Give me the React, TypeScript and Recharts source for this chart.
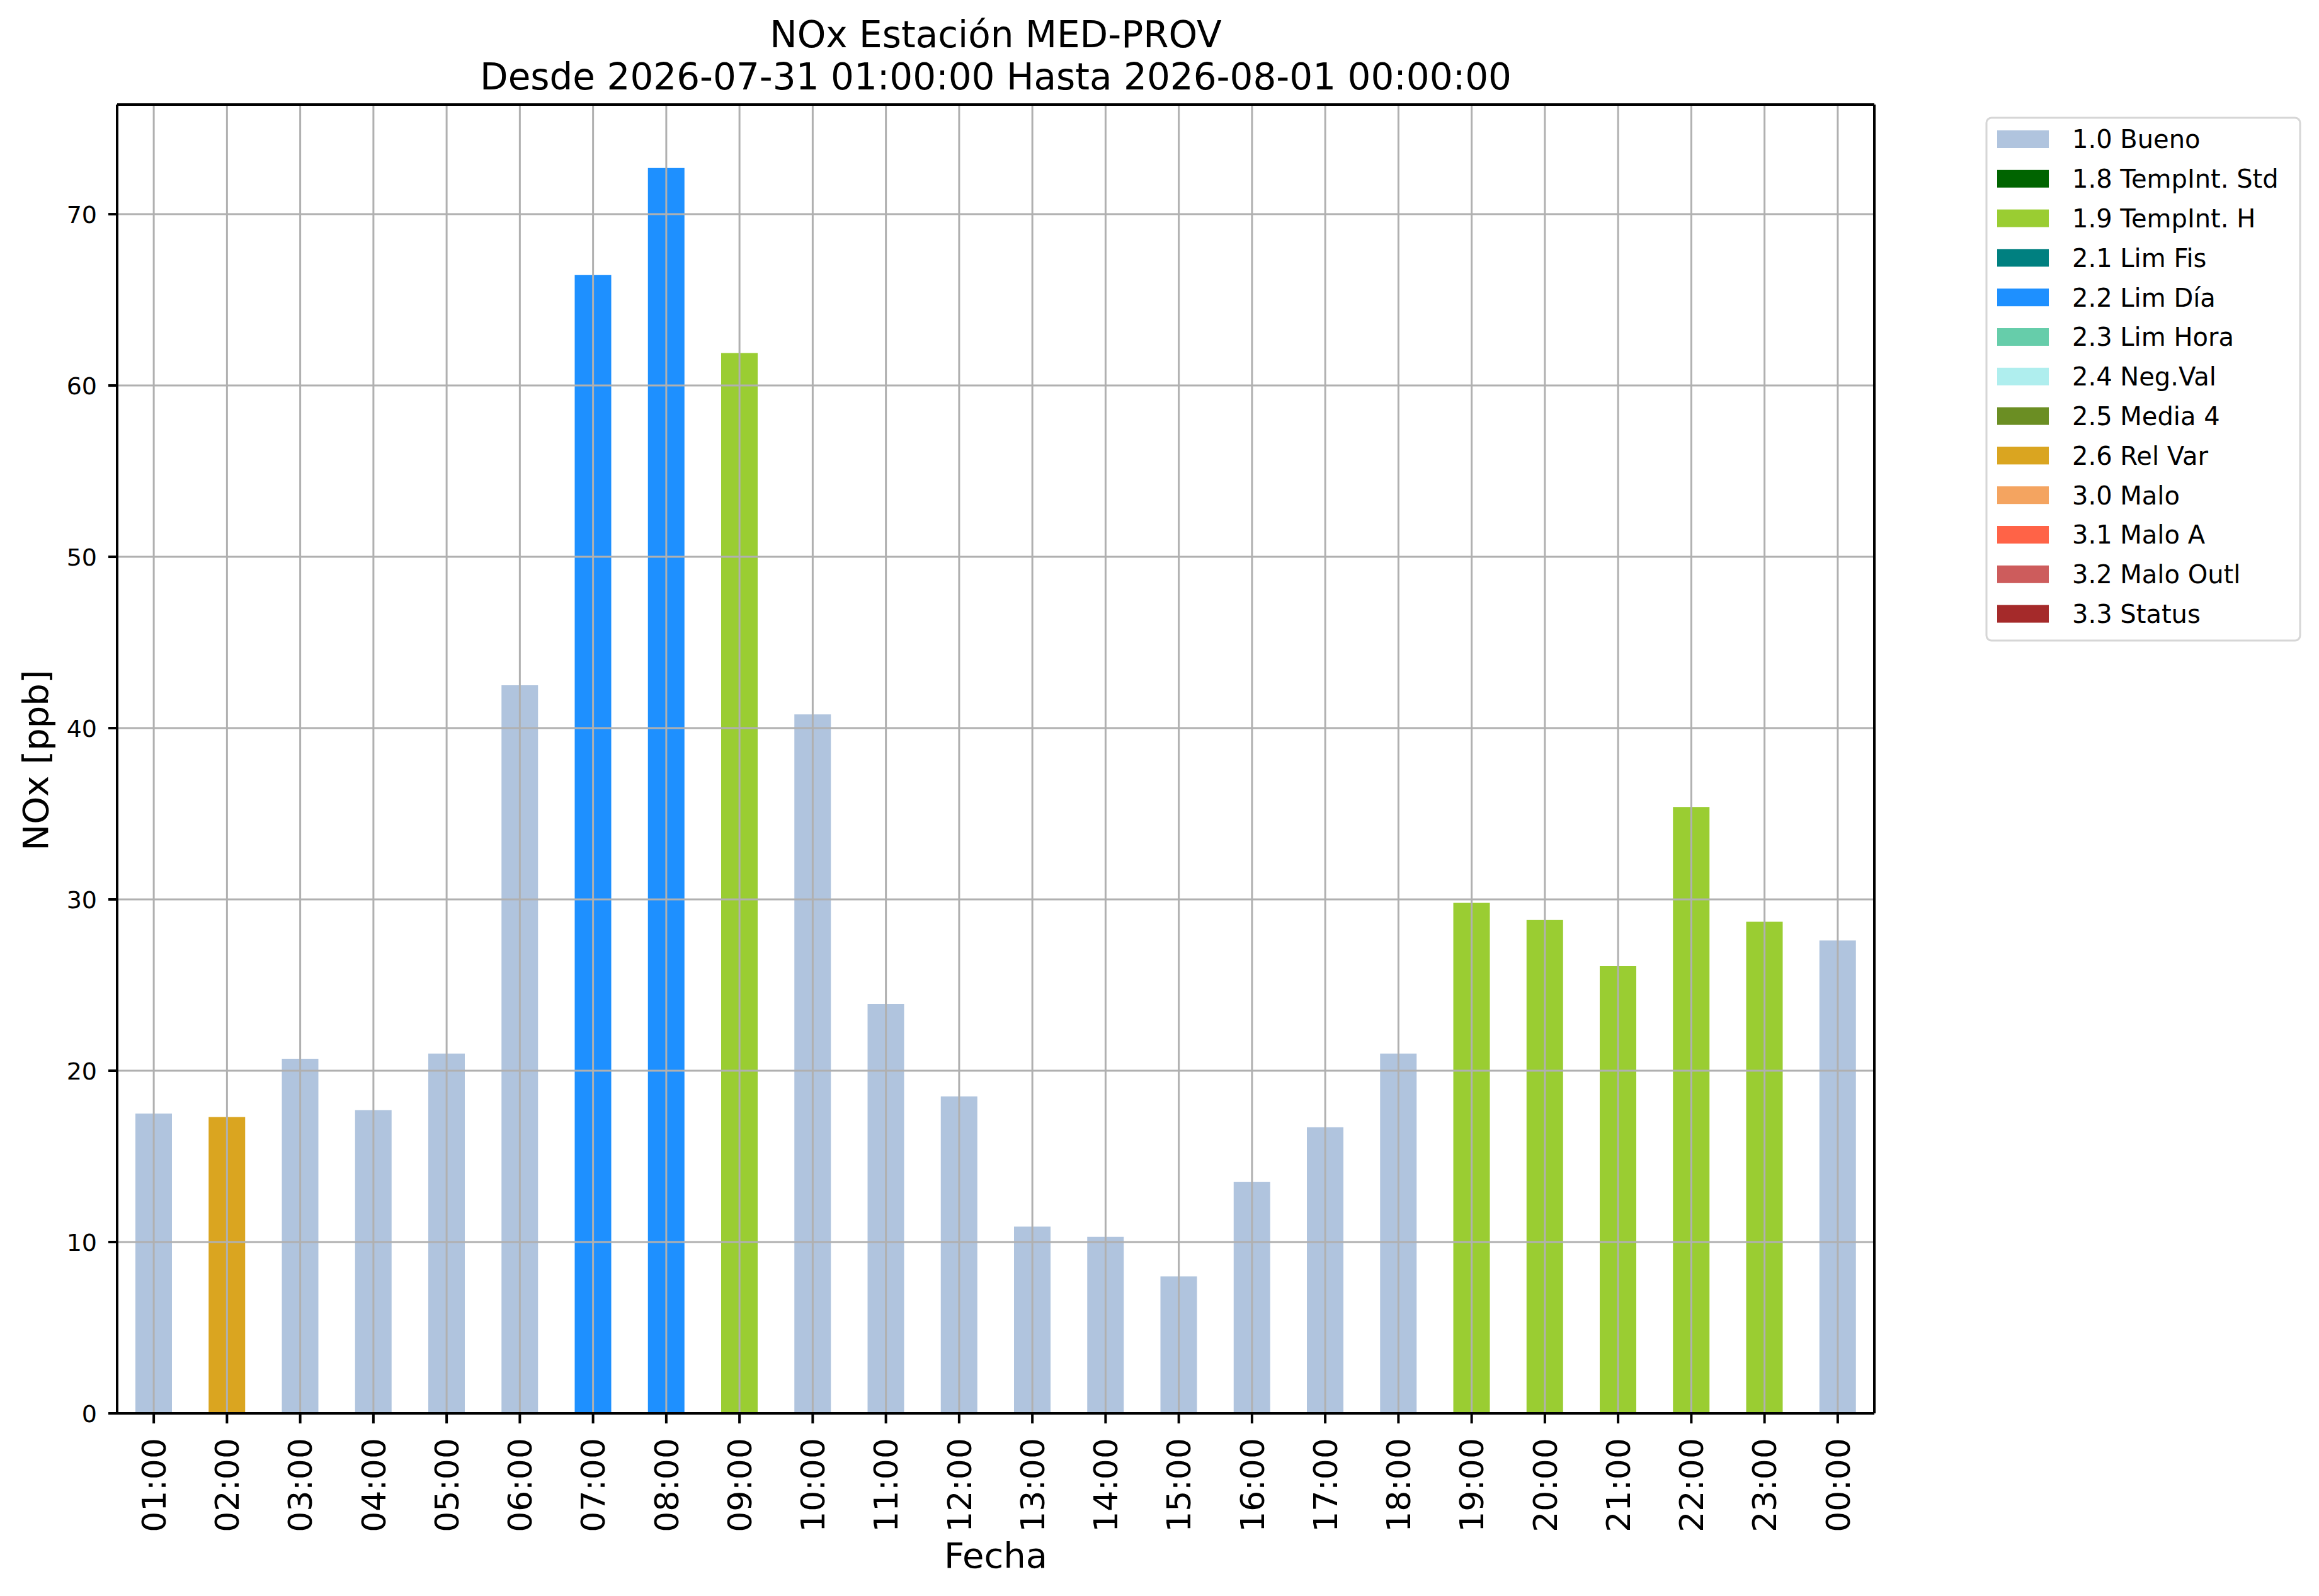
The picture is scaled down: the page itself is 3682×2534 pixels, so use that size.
import { BarChart, Bar, XAxis, YAxis, CartesianGrid, ReferenceLine } from "recharts"

const hours = [
  "01:00", "02:00", "03:00", "04:00", "05:00", "06:00", "07:00", "08:00",
  "09:00", "10:00", "11:00", "12:00", "13:00", "14:00", "15:00", "16:00",
  "17:00", "18:00", "19:00", "20:00", "21:00", "22:00", "23:00", "00:00",
]

const nox = [
  17.5, 17.3, 20.7, 17.7, 21.0, 42.5, 66.45, 72.7, 61.9, 40.8, 23.9, 18.5,
  10.9, 10.3, 8.0, 13.5, 16.7, 21.0, 29.8, 28.8, 26.1, 35.4, 28.7, 27.6,
]

// validation flag of each hour
const hourFlag = [
  "1.0", "2.6", "1.0", "1.0", "1.0", "1.0", "2.2", "2.2", "1.9", "1.0", "1.0", "1.0",
  "1.0", "1.0", "1.0", "1.0", "1.0", "1.0", "1.9", "1.9", "1.9", "1.9", "1.9", "1.0",
]

const flagCodes = ["1.0", "1.8", "1.9", "2.1", "2.2", "2.3", "2.4", "2.5", "2.6", "3.0", "3.1", "3.2", "3.3"]
const flagNames = [
  "1.0 Bueno", "1.8 TempInt. Std", "1.9 TempInt. H", "2.1 Lim Fis", "2.2 Lim Día",
  "2.3 Lim Hora", "2.4 Neg.Val", "2.5 Media 4", "2.6 Rel Var", "3.0 Malo",
  "3.1 Malo A", "3.2 Malo Outl", "3.3 Status",
]
const flagColors = [
  "#b0c4de", "#006400", "#9acd32", "#008080", "#1e90ff", "#66cdaa", "#afeeee",
  "#6b8e23", "#daa520", "#f4a460", "#ff6347", "#cd5c5c", "#a52a2a",
]

const yTicks = [0, 10, 20, 30, 40, 50, 60, 70]
const yMax = 76.4

const FONT = "'DejaVu Sans', sans-serif"
const SPINE = { stroke: "#000", strokeWidth: 4 }
const keyOf = (code: string) => "f" + code.replace(".", "")

const rows = hours.map((h, i) => {
  const r: Record<string, any> = { hour: h }
  flagCodes.forEach((c) => {
    r[keyOf(c)] = hourFlag[i] === c ? nox[i] : 0
  })
  return r
})

function XTick({ x, y, payload }: any) {
  return (
    <text
      x={x}
      y={y}
      transform={`rotate(-90 ${x} ${y})`}
      textAnchor="end"
      dy="0.36em"
      fontSize={52}
      fontFamily={FONT}
      fill="#000"
    >
      {payload.value}
    </text>
  )
}

function YTick({ x, y, payload }: any) {
  return (
    <text x={x} y={y} textAnchor="end" dy="0.36em" fontSize={38} fontFamily={FONT} fill="#000">
      {payload.value}
    </text>
  )
}

export default function App() {
  return (
    <div style={{ position: "absolute", left: 0, top: 0, width: 3682, height: 2534, background: "#fff" }}>
      <BarChart
        width={3682}
        height={2534}
        data={rows}
        margin={{ top: 166, right: 706, left: 0, bottom: 0 }}
        barSize={58}
      >
        {flagCodes.map((c, i) => (
          <Bar
            key={c}
            dataKey={keyOf(c)}
            name={flagNames[i]}
            stackId="q"
            fill={flagColors[i]}
            isAnimationActive={false}
          />
        ))}
        <CartesianGrid stroke="#b0b0b0" strokeWidth={3} zIndex={350} />
        <XAxis
          dataKey="hour"
          height={290}
          interval={0}
          tick={<XTick />}
          tickSize={16}
          tickMargin={23}
          axisLine={SPINE}
          tickLine={SPINE}
          label={{
            content: () => (
              <text x={1581} y={2489} textAnchor="middle" fontSize={56} fontFamily={FONT} fill="#000">
                Fecha
              </text>
            ),
          }}
        />
        <YAxis
          width={186}
          domain={[0, yMax]}
          ticks={yTicks}
          tick={<YTick />}
          tickSize={14}
          tickMargin={18}
          axisLine={SPINE}
          tickLine={SPINE}
          label={{
            content: () => (
              <text
                x={56}
                y={1207}
                transform="rotate(-90 56 1207)"
                textAnchor="middle"
                dy="0.36em"
                fontSize={56}
                fontFamily={FONT}
                fill="#000"
              >
                NOx [ppb]
              </text>
            ),
          }}
        />
        {/* top and right spines */}
        <ReferenceLine y={yMax} stroke="#000" strokeWidth={4} zIndex={600} />
        <ReferenceLine x={hours[hours.length - 1]} position="end" stroke="#000" strokeWidth={4} zIndex={600} />
      </BarChart>

      <svg
        width={3682}
        height={2534}
        style={{ position: "absolute", left: 0, top: 0, pointerEvents: "none" }}
      >
        <text x={1581} y={75} textAnchor="middle" fontSize={58} fontFamily={FONT} fill="#000">
          NOx Estación MED-PROV
        </text>
        <text x={1581} y={142} textAnchor="middle" fontSize={58} fontFamily={FONT} fill="#000">
          Desde 2026-07-31 01:00:00 Hasta 2026-08-01 00:00:00
        </text>
        <rect x={3154} y={187} width={498} height={830} rx={8} fill="#fff" fillOpacity={0.8} stroke="#d6d6d6" strokeWidth={3} />
        {flagNames.map((n, i) => {
          const cy = 221 + i * 62.8
          return (
            <g key={n}>
              <rect x={3171} y={cy - 14} width={82} height={28} fill={flagColors[i]} />
              <text x={3290} y={cy} dy="0.36em" fontSize={40} fontFamily={FONT} fill="#000">
                {n}
              </text>
            </g>
          )
        })}
      </svg>
    </div>
  )
}
